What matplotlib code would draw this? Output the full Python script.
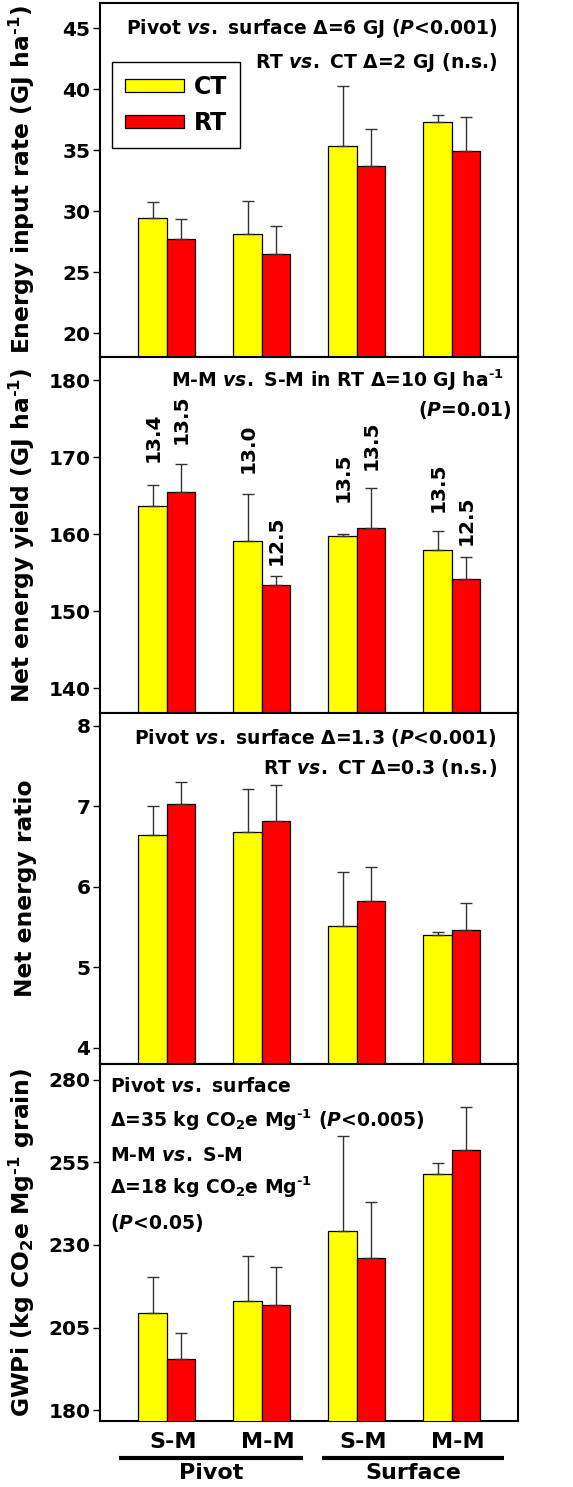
import matplotlib
matplotlib.use("Agg")
import matplotlib.pyplot as plt
import numpy as np
from matplotlib.patches import Patch

plt.rcParams['font.family'] = ['DejaVu Sans']
plt.rcParams['font.weight'] = 'bold'
plt.rcParams['mathtext.fontset'] = 'custom'
plt.rcParams['mathtext.rm'] = 'DejaVu Sans:bold'
plt.rcParams['mathtext.it'] = 'DejaVu Sans:bold:italic'
plt.rcParams['mathtext.bf'] = 'DejaVu Sans:bold'

# ---------------- data ----------------
groups = ["S-M", "M-M", "S-M", "M-M"]
systems = ["Pivot", "Surface"]
treatments = ["CT", "RT"]

input_ct = [29.43, 28.17, 35.36, 37.35]
input_ct_se = [1.31, 2.65, 4.94, 0.52]
input_rt = [27.73, 26.48, 33.69, 34.95]
input_rt_se = [1.64, 2.35, 3.06, 2.75]

yield_ct = [163.65, 159.16, 159.76, 157.90]
yield_ct_se = [2.69, 6.09, 0.26, 2.51]
yield_rt = [165.51, 153.41, 160.80, 154.18]
yield_rt_se = [3.55, 1.12, 5.15, 2.82]
grain_ct = ["13.4", "13.0", "13.5", "13.5"]
grain_rt = ["13.5", "12.5", "13.5", "12.5"]

ratio_ct = [6.64, 6.68, 5.52, 5.40]
ratio_ct_se = [0.37, 0.54, 0.66, 0.04]
ratio_rt = [7.03, 6.82, 5.82, 5.47]
ratio_rt_se = [0.27, 0.45, 0.43, 0.33]

gwp_ct = [209.4, 213.1, 234.3, 251.4]
gwp_ct_se = [10.9, 13.7, 28.8, 3.5]
gwp_rt = [195.4, 211.8, 226.0, 258.8]
gwp_rt_se = [7.8, 11.4, 17.1, 12.9]

# ---------------- figure ----------------
W, H = 573, 1487
fig = plt.figure(figsize=(W / 100, H / 100), dpi=100)

left = 100 / W
width = (518 - 100) / W
panels_px = [(3, 357), (357, 713), (713, 1064), (1064, 1421)]
axes = []
for top, bot in panels_px:
    ax = fig.add_axes([left, 1 - bot / H, width, (bot - top) / H])
    axes.append(ax)

x = np.arange(len(groups))
bw = 0.3
YEL = '#FFFF00'
RED = '#FF0000'
TICK_FS = 14.5
ANN_FS = 13.5
YLAB_FS = 16.8
SUP = "\u2010" + "1"  # hyphen + 1 used in superscripts


def draw(ax, ct, ct_se, rt, rt_se, ylim, yticks, ylabel):
    ekw = dict(ecolor='#333333', elinewidth=1.0, capsize=4.5, capthick=1.0)
    ax.bar(x - bw / 2, ct, bw, color=YEL, edgecolor='black', linewidth=0.9,
           yerr=[np.zeros(len(ct)), ct_se], error_kw=ekw, zorder=3)
    ax.bar(x + bw / 2, rt, bw, color=RED, edgecolor='black', linewidth=0.9,
           yerr=[np.zeros(len(rt)), rt_se], error_kw=ekw, zorder=3)
    ax.set_xlim(-0.705, 3.695)
    ax.set_ylim(*ylim)
    ax.set_yticks(yticks)
    ax.set_yticklabels([str(t) for t in yticks], fontsize=TICK_FS, fontweight='bold')
    ax.tick_params(axis='y', direction='out', length=5, width=1, pad=2)
    ax.tick_params(axis='x', length=0)
    ax.set_xticks([])
    for s in ax.spines.values():
        s.set_linewidth(1.5)
    ax.set_ylabel(ylabel, fontsize=YLAB_FS, fontweight='bold')
    ax.yaxis.set_label_coords(-0.151, 0.5)


draw(axes[0], input_ct, input_ct_se, input_rt, input_rt_se, (18.06, 47.07),
     [20, 25, 30, 35, 40, 45], "Energy input rate (GJ ha$^{" + SUP + "}$)")
draw(axes[1], yield_ct, yield_ct_se, yield_rt, yield_rt_se, (136.8, 183.0),
     [140, 150, 160, 170, 180], "Net energy yield (GJ ha$^{" + SUP + "}$)")
draw(axes[2], ratio_ct, ratio_ct_se, ratio_rt, ratio_rt_se, (3.80, 8.16),
     [4, 5, 6, 7, 8], "Net energy ratio")
draw(axes[3], gwp_ct, gwp_ct_se, gwp_rt, gwp_rt_se, (176.7, 284.8),
     [180, 205, 230, 255, 280], "GWPi (kg CO$_2$e Mg$^{" + SUP + "}$ grain)")

# panel 1 annotations + legend
a = axes[0]
a.text(0.952, 0.929, r"Pivot $\mathit{vs.}$ surface Δ=6 GJ ($\mathit{P}$<0.001)",
       transform=a.transAxes, ha='right', va='center', fontsize=ANN_FS)
a.text(0.952, 0.833, r"RT $\mathit{vs.}$ CT Δ=2 GJ (n.s.)",
       transform=a.transAxes, ha='right', va='center', fontsize=ANN_FS)
handles = [Patch(facecolor=YEL, edgecolor='black', linewidth=0.9),
           Patch(facecolor=RED, edgecolor='black', linewidth=0.9)]
leg = a.legend(handles, treatments, loc='upper left', bbox_to_anchor=(0.029, 0.833),
               fontsize=17, frameon=True, fancybox=False, edgecolor='black',
               framealpha=1, handlelength=2.5, handleheight=0.45, labelspacing=0.5,
               borderpad=0.55, handletextpad=0.4, borderaxespad=0)
leg.get_frame().set_linewidth(1.0)

# panel 2 annotations
a = axes[1]
a.text(0.965, 0.935, r"M-M $\mathit{vs.}$ S-M in RT Δ=10 GJ ha$^{" + SUP + "}$",
       transform=a.transAxes, ha='right', va='center', fontsize=ANN_FS)
a.text(0.983, 0.851, r"($\mathit{P}$=0.01)",
       transform=a.transAxes, ha='right', va='center', fontsize=ANN_FS)
gap_ct = [17, 15, 23, 14]
gap_rt = [15, 8, 13, 9]
for i in range(len(groups)):
    a.annotate(grain_ct[i], (x[i] - bw / 2, yield_ct[i] + yield_ct_se[i]),
               xytext=(0, gap_ct[i]), textcoords='offset points', rotation=90,
               ha='center', va='bottom', fontsize=14.5)
    a.annotate(grain_rt[i], (x[i] + bw / 2, yield_rt[i] + yield_rt_se[i]),
               xytext=(0, gap_rt[i]), textcoords='offset points', rotation=90,
               ha='center', va='bottom', fontsize=14.5)

# panel 3 annotations
a = axes[2]
a.text(0.950, 0.929, r"Pivot $\mathit{vs.}$ surface Δ=1.3 ($\mathit{P}$<0.001)",
       transform=a.transAxes, ha='right', va='center', fontsize=ANN_FS)
a.text(0.950, 0.843, r"RT $\mathit{vs.}$ CT Δ=0.3 (n.s.)",
       transform=a.transAxes, ha='right', va='center', fontsize=ANN_FS)

# panel 4 annotations
a = axes[3]
lines4 = [r"Pivot $\mathit{vs.}$ surface",
          r"Δ=35 kg CO$_2$e Mg$^{" + SUP + r"}$ ($\mathit{P}$<0.005)",
          r"M-M $\mathit{vs.}$ S-M",
          r"Δ=18 kg CO$_2$e Mg$^{" + SUP + "}$",
          r"($\mathit{P}$<0.05)"]
ys4 = [0.936, 0.843, 0.745, 0.655, 0.555]
for t, yy in zip(lines4, ys4):
    a.text(0.024, yy, t, transform=a.transAxes, ha='left', va='center', fontsize=ANN_FS)

# x group labels
tr = a.get_xaxis_transform()
for i, g in enumerate(groups):
    a.text(x[i] + 0.06, -0.058, g, transform=tr, ha='center', va='center',
           fontsize=16, clip_on=False)
spans = [(-0.5, 1.43), (1.63, 3.55)]
for (x0, x1), s in zip(spans, systems):
    a.plot([x0, x1], [-0.1036, -0.1036], transform=tr, color='black', lw=3,
           clip_on=False, solid_capstyle='butt')
    a.text((x0 + x1) / 2, -0.146, s, transform=tr, ha='center', va='center',
           fontsize=16, clip_on=False)

fig.savefig("out.png", dpi=100)
